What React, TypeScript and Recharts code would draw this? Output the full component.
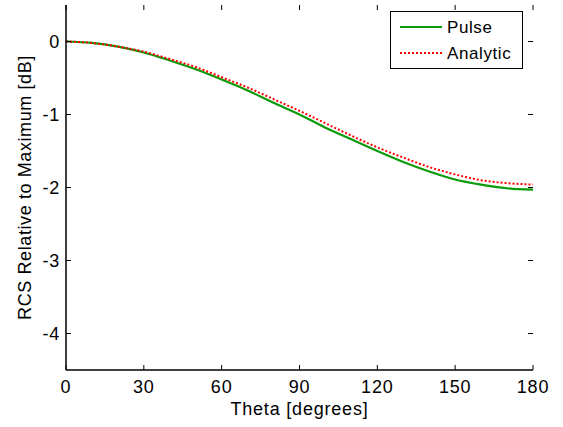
import { LineChart, Line, XAxis, YAxis } from "recharts";

const theta = [0, 10, 20, 30, 40, 50, 60, 70, 80, 90, 100, 110, 120, 130, 140, 150, 160, 170, 180];
const pulse = [0, -0.02, -0.07, -0.15, -0.26, -0.38, -0.52, -0.67, -0.84, -1.0, -1.18, -1.34, -1.5, -1.65, -1.78, -1.89, -1.96, -2.01, -2.03];
const analytic = [0, -0.02, -0.07, -0.14, -0.24, -0.35, -0.49, -0.63, -0.79, -0.95, -1.12, -1.29, -1.45, -1.59, -1.72, -1.82, -1.9, -1.94, -1.96];
const xTicks = [0, 30, 60, 90, 120, 150, 180];
const yTicks = [0, -1, -2, -3, -4];

const W = 563;
const H = 427;
const LEFT = 66;
const RIGHT = 533;
const TOP = 5;
const BOTTOM = 370;
const FONT = "'Liberation Sans', Arial, sans-serif";
const GREEN = "#0a9a0a";
const RED = "#ff0000";

const data = theta.map((t, i) => ({ theta: t, pulse: pulse[i], analytic: analytic[i] }));

function XTick({ x, payload }: any) {
  return (
    <g>
      <line x1={x} x2={x} y1={BOTTOM} y2={BOTTOM - 5} stroke="#000" />
      <line x1={x} x2={x} y1={TOP} y2={TOP + 5} stroke="#000" />
      <text x={x} y={393} textAnchor="middle" fontSize={18} letterSpacing={0.8} fontFamily={FONT} fill="#000">
        {payload.value}
      </text>
    </g>
  );
}

function YTick({ y, payload }: any) {
  return (
    <g>
      <line x1={LEFT} x2={LEFT + 5} y1={y} y2={y} stroke="#000" />
      <line x1={RIGHT} x2={RIGHT - 5} y1={y} y2={y} stroke="#000" />
      <text x={60} y={y + 6.5} textAnchor="end" fontSize={18} letterSpacing={0.8} fontFamily={FONT} fill="#000">
        {payload.value}
      </text>
    </g>
  );
}

// legend drawn as an overlay so the chart does not reserve space for it
function LegendBox() {
  return (
    <div style={{ position: "absolute", left: 390, top: 11, width: 131, height: 56, border: "1px solid #000", background: "#fff" }}>
      <svg width={131} height={56} style={{ display: "block" }}>
        <line x1={9} x2={51} y1={15} y2={15} stroke={GREEN} strokeWidth={2} />
        <line x1={9} x2={51} y1={41} y2={41} stroke={RED} strokeWidth={2} strokeDasharray="2 2" />
        <text x={56} y={21} fontSize={17} letterSpacing={0.6} fontFamily={FONT} fill="#000">Pulse</text>
        <text x={56} y={47} fontSize={17} letterSpacing={0.6} fontFamily={FONT} fill="#000">Analytic</text>
      </svg>
    </div>
  );
}

export default function App() {
  return (
    <div style={{ position: "absolute", left: 0, top: 0, width: W, height: H, background: "#fff" }}>
      <LineChart width={W} height={H} data={data} margin={{ top: TOP, right: W - RIGHT, left: 0, bottom: 0 }}>
        <XAxis
          dataKey="theta"
          type="number"
          domain={[0, 180]}
          ticks={xTicks}
          tick={<XTick />}
          tickLine={false}
          axisLine={{ stroke: "#000", strokeWidth: 1.5 }}
          height={H - BOTTOM}
          label={{ value: "Theta [degrees]", position: "insideBottom", offset: 12, fontSize: 18, fill: "#000", fontFamily: FONT, letterSpacing: 0.8 }}
        />
        <XAxis xAxisId="top" orientation="top" dataKey="theta" type="number" domain={[0, 180]} tick={false} tickLine={false} height={0} axisLine={{ stroke: "#000", strokeWidth: 1.5 }} />
        <YAxis
          type="number"
          domain={[-4.5, 0.5]}
          ticks={yTicks}
          tick={<YTick />}
          tickLine={false}
          width={LEFT}
          axisLine={{ stroke: "#000", strokeWidth: 1.5 }}
          label={{ value: "RCS Relative to Maximum [dB]", angle: -90, position: "insideLeft", offset: 0, dx: 25, fontSize: 18, fill: "#000", fontFamily: FONT, letterSpacing: 0.6, style: { textAnchor: "middle" } }}
        />
        <YAxis yAxisId="right" orientation="right" type="number" domain={[-4.5, 0.5]} tick={false} tickLine={false} width={0} axisLine={{ stroke: "#000", strokeWidth: 1.5 }} />
        <Line dataKey="pulse" name="Pulse" type="monotone" stroke={GREEN} strokeWidth={2.2} dot={false} isAnimationActive={false} />
        <Line dataKey="analytic" name="Analytic" type="monotone" stroke={RED} strokeWidth={2} strokeDasharray="2 2" dot={false} isAnimationActive={false} />
      </LineChart>
      <LegendBox />
    </div>
  );
}
